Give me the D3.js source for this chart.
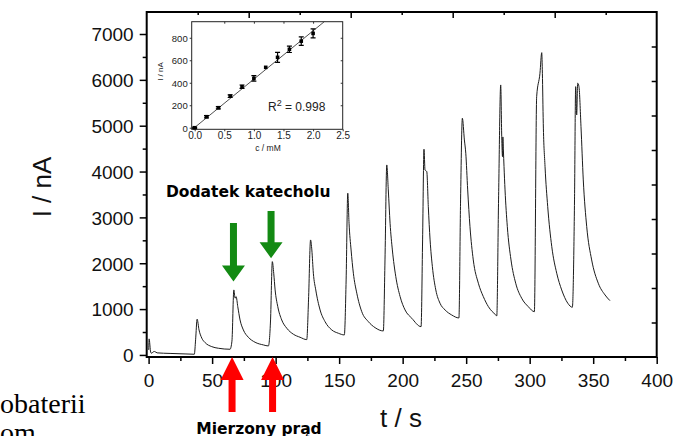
<!DOCTYPE html>
<html><head><meta charset="utf-8">
<script src="https://cdn.jsdelivr.net/npm/d3@7"></script>
<style>
html,body{margin:0;padding:0;background:#fff;overflow:hidden}
svg{display:block}
</style></head><body>
<svg id="chart" width="686" height="436"></svg>
<script>
// Amperometric current after successive catechol additions
const timeS = [
  0.1, 0.4, 1.6, 2.4, 3.5, 4.7, 6.7, 16.9, 28.7, 36.0,
  37.0, 38.2, 39.7, 41.9, 44.5, 49.7, 54.9, 64.1,
  65.6, 67.1, 68.1, 68.9, 70.2, 72.0, 74.6, 78.5, 83.8, 90.4, 94.3,
  96.0, 97.4, 98.5, 99.6, 101.7, 104.8, 108.8, 114.0, 119.2, 124.5,
  125.9, 127.5, 128.5, 129.7, 131.6, 135.0, 138.9, 144.2, 149.4, 154.1,
  155.5, 156.8, 157.8, 159.4, 161.2, 163.9, 167.8, 173.0, 178.3, 184.8,
  186.1, 187.5, 188.7, 190.1, 191.9, 194.6, 198.0, 201.9, 207.2, 214.5,
  215.7, 216.8, 217.6, 219.0, 220.2, 221.6, 223.4, 226.1, 229.4, 233.4, 238.6, 244.3,
  245.6, 247.0, 248.6, 249.7, 251.2, 253.0, 255.6, 259.6, 263.5, 267.5, 273.3, 274.1,
  275.5, 277.2, 278.0, 278.6, 278.9, 279.3, 279.8, 280.6, 282.4, 285.3, 289.0, 293.7, 298.9, 303.7,
  305.5, 308.1, 309.5, 310.0, 310.7, 312.1, 314.2, 317.4, 321.3, 325.2, 330.0, 333.6,
  335.3, 336.2, 337.0, 337.8, 338.8, 340.4, 342.2, 344.9, 348.8, 354.0, 359.3, 363.2
];
const currentNA = [
  110, 350, 65, 35, 65, 75, 45, 33, 22, 15,
  330, 780, 545, 365, 268, 181, 146, 124,
  300, 1418, 1237, 1272, 1053, 763, 545, 386, 277, 218, 196,
  763, 2035, 1782, 1418, 1053, 763, 582, 451, 386, 334,
  1200, 2508, 2290, 1782, 1418, 981, 726, 545, 473, 436,
  1636, 3527, 2872, 2290, 1782, 1346, 944, 726, 595, 523,
  2072, 4144, 3599, 2872, 2290, 1708, 1272, 981, 800, 617,
  2508, 4486, 4035, 3998, 3234, 2508, 1926, 1418, 1128, 981, 872, 807,
  3381, 5162, 4689, 4399, 3599, 2798, 2072, 1564, 1272, 1053, 872, 851,
  3381, 5889, 4761, 4325, 4755, 4471, 4107, 3599, 2798, 2072, 1564, 1237, 1053, 944,
  5633, 6144, 6593, 6144, 5053, 4107, 3234, 2362, 1782, 1418, 1128, 1040,
  3381, 5852, 5234, 5926, 5852, 4979, 3817, 2798, 2072, 1564, 1309, 1184
];
const xTicks = [0, 50, 100, 150, 200, 250, 300, 350, 400];
const xMinorTicks = [25, 75, 125, 175, 225, 275, 325, 375];
const yTicks = [0, 1000, 2000, 3000, 4000, 5000, 6000, 7000];
const yMinorTicks = [500, 1500, 2500, 3500, 4500, 5500, 6500];

// Calibration inset
const concMM = [0, 0.2, 0.4, 0.6, 0.8, 1.0, 1.2, 1.4, 1.6, 1.8, 2.0];
const calCurrent = [0, 98, 178, 281, 365, 439, 537, 626, 697, 770, 839];
const calError = [5, 10, 10, 12, 15, 25, 0, 45, 28, 38, 40];
const cTicks = [0, 0.5, 1.0, 1.5, 2.0, 2.5];
const iTicks = [0, 200, 400, 600, 800];
const fitSlope = 430;
const fitIntercept = 2;
const r2Text = "0.998";

// Annotations: catechol additions and measured current
const additionTimes = [66.8, 96.4];
const additionTipNA = [1600, 2110];
const additionTailNA = [2880, 3140];
const measuredTimes = [65.7, 97.6];

const sans = "'Liberation Sans', Arial, sans-serif";
const bold = "'DejaVu Sans', Verdana, sans-serif";
const svg = d3.select("#chart");

const M = {left: 146.7, right: 656.7, top: 12, bottom: 357};
const x = d3.scaleLinear().domain([-1.5, 400]).range([M.left, M.right]);
const y = d3.scaleLinear().domain([-45, 7480]).range([M.bottom, M.top]);

function styleTicks(g, w) {
  g.select(".domain").remove();
  g.selectAll(".tick line").attr("stroke", "#000").attr("stroke-width", w);
}

// bottom axis
const gx = svg.append("g").attr("transform", `translate(0,${M.bottom})`)
  .call(d3.axisBottom(x).tickValues(xTicks).tickSize(7).tickFormat(d3.format("d")));
styleTicks(gx, 1.5);
gx.selectAll("text").attr("y", 30).attr("dy", null)
  .attr("font-family", sans).attr("font-size", 19).attr("fill", "#111");
const gxm = svg.append("g").attr("transform", `translate(0,${M.bottom})`)
  .call(d3.axisBottom(x).tickValues(xMinorTicks).tickSize(4).tickFormat(""));
styleTicks(gxm, 1.5);

// left axis
const gy = svg.append("g").attr("transform", `translate(${M.left},0)`)
  .call(d3.axisLeft(y).tickValues(yTicks).tickSize(7).tickPadding(6).tickFormat(d3.format("d")));
styleTicks(gy, 1.5);
gy.selectAll("text").attr("dy", "0.36em")
  .attr("font-family", sans).attr("font-size", 19).attr("fill", "#111");
const gym = svg.append("g").attr("transform", `translate(${M.left},0)`)
  .call(d3.axisLeft(y).tickValues(yMinorTicks).tickSize(4).tickFormat(""));
styleTicks(gym, 1.5);

// top and right frame ticks (inward)
const fx = d3.scaleLinear().domain([0, 10]).range([M.left, M.right]);
const fy = d3.scaleLinear().domain([0, 10]).range([M.bottom, M.top]);
const gt = svg.append("g").attr("transform", `translate(0,${M.top})`)
  .call(d3.axisBottom(fx).tickValues(d3.range(1, 10)).tickSize(3).tickFormat(""));
styleTicks(gt, 1.5);
gt.selectAll(".tick line").filter(d => d % 2 === 0).attr("y2", 6);
const gr = svg.append("g").attr("transform", `translate(${M.right},0)`)
  .call(d3.axisLeft(fy).tickValues(d3.range(1, 10)).tickSize(5).tickFormat(""));
styleTicks(gr, 1.5);

// plot frame
svg.append("rect")
  .attr("x", M.left).attr("y", M.top)
  .attr("width", M.right - M.left).attr("height", M.bottom - M.top)
  .attr("fill", "none").attr("stroke", "#000").attr("stroke-width", 2);

// current trace
const line = d3.line()
  .x((d, i) => x(timeS[i]))
  .y((d, i) => y(currentNA[i]))
  .curve(d3.curveMonotoneX);
svg.append("path")
  .datum(currentNA)
  .attr("d", line)
  .attr("fill", "none")
  .attr("stroke", "#1c1c1c")
  .attr("stroke-width", 1);

// axis titles
svg.append("text")
  .attr("x", 401).attr("y", 427).attr("text-anchor", "middle")
  .attr("font-family", sans).attr("font-size", 26).attr("fill", "#111")
  .text("t / s");
svg.append("text")
  .attr("transform", "translate(51,187) rotate(-90)").attr("text-anchor", "middle")
  .attr("font-family", sans).attr("font-size", 26).attr("fill", "#111")
  .text("I / nA");

// ---- inset calibration plot ----
const I = {left: 191.7, right: 342.7, top: 21.7, bottom: 129.3};
const cx = d3.scaleLinear().domain([-0.05, 2.5]).range([I.left, I.right]);
const cy = d3.scaleLinear().domain([-14, 943]).range([I.bottom, I.top]);
const inset = svg.append("g");
inset.append("rect")
  .attr("x", I.left).attr("y", I.top)
  .attr("width", I.right - I.left).attr("height", I.bottom - I.top)
  .attr("fill", "#fff");
inset.append("clipPath").attr("id", "insetClip").append("rect")
  .attr("x", I.left).attr("y", I.top)
  .attr("width", I.right - I.left).attr("height", I.bottom - I.top);

const ib = inset.append("g").attr("transform", `translate(0,${I.bottom})`)
  .call(d3.axisBottom(cx).tickValues(cTicks).tickSize(2).tickFormat(d3.format(".1f")));
styleTicks(ib, 0.8);
ib.selectAll("text").attr("y", 9.5).attr("dy", null)
  .attr("font-family", sans).attr("font-size", 10).attr("fill", "#222");
const il = inset.append("g").attr("transform", `translate(${I.left},0)`)
  .call(d3.axisLeft(cy).tickValues(iTicks).tickSize(2).tickPadding(2).tickFormat(d3.format("d")));
styleTicks(il, 0.8);
il.selectAll("text").attr("dy", "0.36em")
  .attr("font-family", sans).attr("font-size", 9.5).attr("fill", "#222");
const itop = inset.append("g").attr("transform", `translate(0,${I.top})`)
  .call(d3.axisBottom(cx).tickValues(cTicks.slice(1, 5)).tickSize(2).tickFormat(""));
styleTicks(itop, 0.8);
const iright = inset.append("g").attr("transform", `translate(${I.right},0)`)
  .call(d3.axisLeft(cy).tickValues(iTicks.slice(1)).tickSize(2).tickFormat(""));
styleTicks(iright, 0.8);

inset.append("rect")
  .attr("x", I.left).attr("y", I.top)
  .attr("width", I.right - I.left).attr("height", I.bottom - I.top)
  .attr("fill", "none").attr("stroke", "#222").attr("stroke-width", 1);

// fitted line
const fitX = [-0.05, 2.5];
inset.append("line")
  .attr("clip-path", "url(#insetClip)")
  .attr("x1", cx(fitX[0])).attr("y1", cy(fitSlope * fitX[0] + fitIntercept))
  .attr("x2", cx(fitX[1])).attr("y2", cy(fitSlope * fitX[1] + fitIntercept))
  .attr("stroke", "#222").attr("stroke-width", 0.8);

// error bars and markers
const calPoints = concMM.map((c, i) => ({c, v: calCurrent[i], e: calError[i]}));
const pts = inset.append("g").selectAll("g").data(calPoints).join("g");
pts.filter(d => d.e > 0).append("path")
  .attr("d", d => {
    const px = cx(d.c), y1 = cy(d.v + d.e), y2 = cy(d.v - d.e);
    return `M${px - 2.5},${y1}H${px + 2.5}M${px},${y1}V${y2}M${px - 2.5},${y2}H${px + 2.5}`;
  })
  .attr("stroke", "#000").attr("stroke-width", 1.2).attr("fill", "none");
pts.append("rect")
  .attr("x", d => cx(d.c) - 1.8)
  .attr("y", d => cy(d.v) - 1.8)
  .attr("width", 3.6).attr("height", 3.6).attr("fill", "#000");

inset.append("text")
  .attr("transform", `translate(163,${(I.top + I.bottom) / 2 - 4}) rotate(-90)`)
  .attr("text-anchor", "middle")
  .attr("font-family", sans).attr("font-size", 8).attr("fill", "#222")
  .text("I / nA");
inset.append("text")
  .attr("x", 268).attr("y", 151).attr("text-anchor", "middle")
  .attr("font-family", sans).attr("font-size", 8.5).attr("fill", "#222")
  .text("c / mM");
const r2 = inset.append("text")
  .attr("x", 268).attr("y", 111)
  .attr("font-family", sans).attr("font-size", 12).attr("fill", "#222");
r2.append("tspan").text("R");
r2.append("tspan").attr("dy", -5).attr("font-size", 9).text("2");
r2.append("tspan").attr("dy", 5).text(" = " + r2Text);

// ---- annotations ----
function arrowPath(px, tipY, tailY, headLen, headW, shaftW) {
  const dir = tailY < tipY ? -1 : 1; // tail above tip -> points down
  const baseY = tipY + dir * headLen;
  return `M${px - shaftW / 2},${tailY}L${px + shaftW / 2},${tailY}` +
         `L${px + shaftW / 2},${baseY}L${px + headW / 2},${baseY}` +
         `L${px},${tipY}L${px - headW / 2},${baseY}L${px - shaftW / 2},${baseY}Z`;
}
additionTimes.forEach((t, i) => {
  svg.append("path")
    .attr("d", arrowPath(x(t), y(additionTipNA[i]), y(additionTailNA[i]), 16, 23, 7))
    .attr("fill", "#138a13");
});
measuredTimes.forEach(t => {
  svg.append("path")
    .attr("d", arrowPath(x(t), M.bottom, M.bottom + 55, 23, 23, 7))
    .attr("fill", "#ff0000");
});
svg.append("text")
  .attr("x", 166).attr("y", 197)
  .attr("font-family", bold).attr("font-weight", "bold")
  .attr("font-size", 15.5).attr("fill", "#000")
  .text("Dodatek katecholu");
svg.append("text")
  .attr("x", 259).attr("y", 434).attr("text-anchor", "middle")
  .attr("font-family", bold).attr("font-weight", "bold")
  .attr("font-size", 15.5).attr("fill", "#000")
  .text("Mierzony prąd");

// text partly outside the view at the lower left
const serif = "'Liberation Serif', 'Times New Roman', serif";
svg.append("text")
  .attr("x", 0).attr("y", 413)
  .attr("font-family", serif).attr("font-size", 28).attr("fill", "#000")
  .text("obaterii");
svg.append("text")
  .attr("x", 0).attr("y", 442)
  .attr("font-family", serif).attr("font-size", 28).attr("fill", "#000")
  .text("om");
</script>
</body></html>
